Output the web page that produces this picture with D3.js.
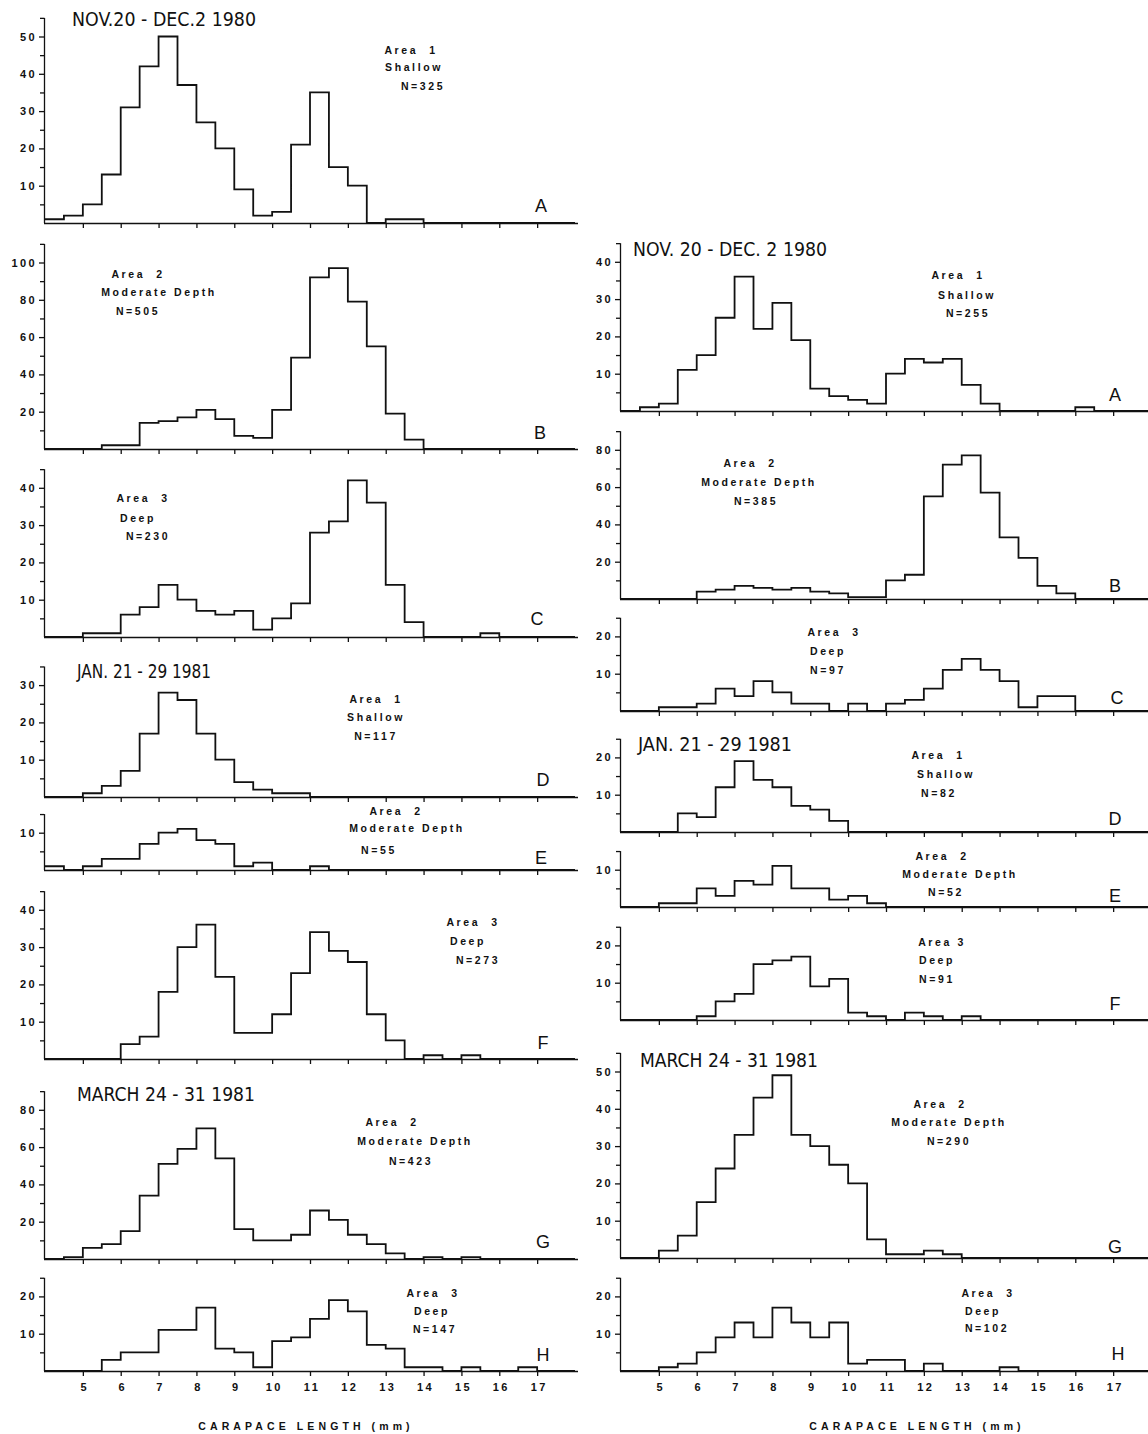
<!DOCTYPE html>
<html>
<head>
<meta charset="utf-8">
<script src="https://cdn.jsdelivr.net/npm/d3@7"></script>
<style>
  body { margin: 0; background: #fff; }
  svg text { fill: #111; }
  .num { font-family: "Liberation Sans", Arial, sans-serif; font-weight: bold; font-size: 11px; letter-spacing: 2.4px; }
  .note { font-family: "Liberation Sans", Arial, sans-serif; font-weight: bold; font-size: 10.5px; letter-spacing: 2.6px; white-space: pre; }
  .axis-title { font-family: "Liberation Sans", Arial, sans-serif; font-weight: bold; font-size: 10.5px; letter-spacing: 4.1px; }
  .title { font-family: "Liberation Sans Narrow", "DejaVu Sans Condensed", "Liberation Sans", sans-serif; font-size: 19.5px; }
  .letter { font-family: "Liberation Sans", Arial, sans-serif; font-size: 18px; }
</style>
</head>
<body>
<div id="chart"></div>
<script>
// lower edge of each 0.5 mm size class (mm)
const binStarts = [4, 4.5, 5, 5.5, 6, 6.5, 7, 7.5, 8, 8.5, 9, 9.5, 10, 10.5,
  11, 11.5, 12, 12.5, 13, 13.5, 14, 14.5, 15, 15.5, 16, 16.5, 17, 17.5];
const xTicks = [5, 6, 7, 8, 9, 10, 11, 12, 13, 14, 15, 16, 17];
const axisTitle = 'CARAPACE LENGTH (mm)';

// left column, counts per size class
const leftA = [1, 2, 5, 13, 31, 42, 50, 37, 27, 20, 9, 2, 3, 21, 35, 15, 10, 0, 1, 1, 0, 0, 0, 0, 0, 0, 0, 0];
const leftB = [0, 0, 0, 2, 2, 14, 15, 17, 21, 16, 7, 6, 21, 49, 92, 97, 79, 55, 19, 5, 0, 0, 0, 0, 0, 0, 0, 0];
const leftC = [0, 0, 1, 1, 6, 8, 14, 10, 7, 6, 7, 2, 5, 9, 28, 31, 42, 36, 14, 4, 0, 0, 0, 1, 0, 0, 0, 0];
const leftD = [0, 0, 1, 3, 7, 17, 28, 26, 17, 10, 4, 2, 1, 1, 0, 0, 0, 0, 0, 0, 0, 0, 0, 0, 0, 0, 0, 0];
const leftE = [1, 0, 1, 3, 3, 7, 10, 11, 8, 7, 1, 2, 0, 0, 1, 0, 0, 0, 0, 0, 0, 0, 0, 0, 0, 0, 0, 0];
const leftF = [0, 0, 0, 0, 4, 6, 18, 30, 36, 22, 7, 7, 12, 23, 34, 29, 26, 12, 5, 0, 1, 0, 1, 0, 0, 0, 0, 0];
const leftG = [0, 1, 6, 8, 15, 34, 51, 59, 70, 54, 16, 10, 10, 13, 26, 21, 13, 8, 3, 0, 1, 0, 1, 0, 0, 0, 0, 0];
const leftH = [0, 0, 0, 3, 5, 5, 11, 11, 17, 6, 5, 1, 8, 9, 14, 19, 16, 7, 6, 1, 1, 0, 1, 0, 0, 1, 0, 0];

// right column, counts per size class
const rightA = [0, 1, 2, 11, 15, 25, 36, 22, 29, 19, 6, 4, 3, 2, 10, 14, 13, 14, 7, 2, 0, 0, 0, 0, 1, 0, 0, 0];
const rightB = [0, 0, 0, 0, 4, 5, 7, 6, 5, 6, 4, 3, 1, 1, 10, 13, 55, 72, 77, 57, 33, 22, 7, 3, 0, 0, 0, 0];
const rightC = [0, 0, 1, 1, 2, 6, 4, 8, 5, 2, 2, 0, 2, 0, 2, 3, 6, 11, 14, 11, 8, 1, 4, 4, 0, 0, 0, 0];
const rightD = [0, 0, 0, 5, 4, 12, 19, 14, 12, 7, 6, 3, 0, 0, 0, 0, 0, 0, 0, 0, 0, 0, 0, 0, 0, 0, 0, 0];
const rightE = [0, 0, 1, 1, 5, 3, 7, 6, 11, 5, 5, 2, 3, 1, 0, 0, 0, 0, 0, 0, 0, 0, 0, 0, 0, 0, 0, 0];
const rightF = [0, 0, 0, 0, 1, 5, 7, 15, 16, 17, 9, 11, 2, 1, 0, 2, 1, 0, 1, 0, 0, 0, 0, 0, 0, 0, 0, 0];
const rightG = [0, 0, 2, 6, 15, 24, 33, 43, 49, 33, 30, 25, 20, 5, 1, 1, 2, 1, 0, 0, 0, 0, 0, 0, 0, 0, 0, 0];
const rightH = [0, 0, 1, 2, 5, 9, 13, 9, 17, 13, 9, 13, 2, 3, 3, 0, 2, 0, 0, 0, 1, 0, 0, 0, 0, 0, 0, 0];

const width = 1148, height = 1434;

// each column shares one x range
const columns = {
  left: { range: [45, 575], lineEnd: 578, titleX: 306 },
  right: { range: [621, 1151], lineEnd: 1151, titleX: 917 }
};

// panel layout: baseline pixel, top of y scale, labelled tick step
const panels = [
  { col: 'left', counts: leftA, base: 223, yMax: 55, step: 10, letter: 'A', lx: 541, ly: 212,
    title: { text: 'NOV.20 - DEC.2 1980', x: 72, y: 26, w: 184 },
    notes: [['Area  1', 411, 54], ['Shallow', 414, 71], ['N=325', 423, 90]] },
  { col: 'left', counts: leftB, base: 449, yMax: 110, step: 20, letter: 'B', lx: 540, ly: 439,
    notes: [['Area  2', 138, 278], ['Moderate Depth', 159, 296], ['N=505', 138, 315]] },
  { col: 'left', counts: leftC, base: 637, yMax: 45, step: 10, letter: 'C', lx: 537, ly: 625,
    notes: [['Area  3', 143, 502], ['Deep', 138, 522], ['N=230', 148, 540]] },
  { col: 'left', counts: leftD, base: 797, yMax: 35, step: 10, letter: 'D', lx: 543, ly: 786,
    title: { text: 'JAN. 21 - 29  1981', x: 77, y: 678, w: 134 },
    notes: [['Area  1', 376, 703], ['Shallow', 376, 721], ['N=117', 376, 740]] },
  { col: 'left', counts: leftE, base: 870, yMax: 15, step: 10, letter: 'E', lx: 541, ly: 864,
    notes: [['Area  2', 396, 815], ['Moderate Depth', 407, 832], ['N=55', 379, 854]] },
  { col: 'left', counts: leftF, base: 1059, yMax: 45, step: 10, letter: 'F', lx: 543, ly: 1049,
    notes: [['Area  3', 473, 926], ['Deep', 468, 945], ['N=273', 478, 964]] },
  { col: 'left', counts: leftG, base: 1259, yMax: 90, step: 20, letter: 'G', lx: 543, ly: 1248,
    title: { text: 'MARCH 24 - 31  1981', x: 77, y: 1101, w: 178 },
    notes: [['Area  2', 392, 1126], ['Moderate Depth', 415, 1145], ['N=423', 411, 1165]] },
  { col: 'left', counts: leftH, base: 1371, yMax: 25, step: 10, letter: 'H', lx: 543, ly: 1361, bottom: true,
    notes: [['Area  3', 433, 1297], ['Deep', 432, 1315], ['N=147', 435, 1333]] },

  { col: 'right', counts: rightA, base: 411, yMax: 45, step: 10, letter: 'A', lx: 1115, ly: 401,
    title: { text: 'NOV. 20 - DEC. 2 1980', x: 633, y: 256, w: 194 },
    notes: [['Area  1', 958, 279], ['Shallow', 967, 299], ['N=255', 968, 317]] },
  { col: 'right', counts: rightB, base: 599, yMax: 90, step: 20, letter: 'B', lx: 1115, ly: 592,
    notes: [['Area  2', 750, 467], ['Moderate Depth', 759, 486], ['N=385', 756, 505]] },
  { col: 'right', counts: rightC, base: 711, yMax: 25, step: 10, letter: 'C', lx: 1117, ly: 704,
    notes: [['Area  3', 834, 636], ['Deep', 828, 655], ['N=97', 828, 674]] },
  { col: 'right', counts: rightD, base: 832, yMax: 25, step: 10, letter: 'D', lx: 1115, ly: 825,
    title: { text: 'JAN. 21 - 29  1981', x: 638, y: 751, w: 154 },
    notes: [['Area  1', 938, 759], ['Shallow', 946, 778], ['N=82', 939, 797]] },
  { col: 'right', counts: rightE, base: 907, yMax: 15, step: 10, letter: 'E', lx: 1115, ly: 902,
    notes: [['Area  2', 942, 860], ['Moderate Depth', 960, 878], ['N=52', 946, 896]] },
  { col: 'right', counts: rightF, base: 1020, yMax: 25, step: 10, letter: 'F', lx: 1115, ly: 1010,
    notes: [['Area 3', 942, 946], ['Deep', 937, 964], ['N=91', 937, 983]] },
  { col: 'right', counts: rightG, base: 1258, yMax: 55, step: 10, letter: 'G', lx: 1115, ly: 1253,
    title: { text: 'MARCH 24 - 31  1981', x: 640, y: 1067, w: 178 },
    notes: [['Area  2', 940, 1108], ['Moderate Depth', 949, 1126], ['N=290', 949, 1145]] },
  { col: 'right', counts: rightH, base: 1371, yMax: 25, step: 10, letter: 'H', lx: 1118, ly: 1360, bottom: true,
    notes: [['Area  3', 988, 1297], ['Deep', 983, 1315], ['N=102', 987, 1332]] }
];

const svg = d3.select('#chart')
  .append('svg')
  .attr('width', width)
  .attr('height', height)
  .style('display', 'block');

svg.append('rect').attr('width', width).attr('height', height).attr('fill', '#fff');

// one labelled step (10 or 20 counts) is about 37 px tall in every panel
const stepPx = 37.3;

panels.forEach((p) => {
  const col = columns[p.col];
  const x = d3.scaleLinear().domain([4, 18]).range(col.range);
  const y = d3.scaleLinear().domain([0, p.yMax]).range([p.base, p.base - p.yMax * stepPx / p.step]);
  const g = svg.append('g');

  // x axis with downward ticks, numbers only under the bottom panels
  const xAxis = d3.axisBottom(x)
    .tickValues(xTicks)
    .tickSize(5)
    .tickSizeOuter(0)
    .tickPadding(7)
    .tickFormat((d) => (p.bottom ? d : ''));
  const xg = g.append('g').attr('transform', `translate(0,${p.base})`).call(xAxis);
  xg.select('.domain').attr('d', `M${x(4) - 1},0.5H${col.lineEnd}`);
  xg.selectAll('line').attr('stroke', '#111').attr('stroke-width', 1.3);
  xg.select('.domain').attr('stroke', '#111').attr('stroke-width', 1.5);
  xg.selectAll('text').attr('class', 'num').attr('dx', 1.5);

  // y axis: minor ticks at half steps, labels on whole steps
  const minor = d3.range(p.step / 2, p.yMax + 0.01, p.step / 2).filter((v) => v % p.step !== 0);
  const major = d3.range(p.step, p.yMax + 0.01, p.step);
  const yx = x(4) - 1;

  const ygMinor = g.append('g').attr('transform', `translate(${yx},0)`)
    .call(d3.axisLeft(y).tickValues(minor).tickSize(4).tickSizeOuter(0).tickFormat(''));
  ygMinor.select('.domain').remove();

  const yg = g.append('g').attr('transform', `translate(${yx},0)`)
    .call(d3.axisLeft(y).tickValues(major).tickSize(5).tickSizeOuter(0).tickPadding(2));
  yg.select('.domain').attr('d', `M0.5,${y(0)}V${y(p.yMax)}`);
  g.selectAll('.tick line, .domain').attr('stroke', '#111').attr('stroke-width', 1.3);
  yg.selectAll('text').attr('class', 'num');

  // stepped outline of the size-frequency histogram
  const pts = binStarts.map((b, i) => [b, p.counts[i]]);
  pts.push([18, 0]);
  const line = d3.line()
    .x((d) => x(d[0]))
    .y((d) => y(d[1]))
    .curve(d3.curveStepAfter);

  g.append('path')
    .datum(pts)
    .attr('d', line)
    .attr('fill', 'none')
    .attr('stroke', '#111')
    .attr('stroke-width', 1.8)
    .attr('stroke-linejoin', 'miter');

  // panel letter
  g.append('text')
    .attr('class', 'letter')
    .attr('x', p.lx)
    .attr('y', p.ly)
    .attr('text-anchor', 'middle')
    .text(p.letter);

  // area / depth / sample size note
  p.notes.forEach(([t, nx, ny]) => {
    g.append('text')
      .attr('class', 'note')
      .attr('x', nx)
      .attr('y', ny)
      .attr('text-anchor', 'middle')
      .text(t);
  });

  // sampling date heading
  if (p.title) {
    g.append('text')
      .attr('class', 'title')
      .attr('x', p.title.x)
      .attr('y', p.title.y)
      .attr('textLength', p.title.w)
      .attr('lengthAdjust', 'spacingAndGlyphs')
      .text(p.title.text);
  }
});

// axis titles under each column
Object.values(columns).forEach((c) => {
  svg.append('text')
    .attr('class', 'axis-title')
    .attr('x', c.titleX)
    .attr('y', 1430)
    .attr('text-anchor', 'middle')
    .text(axisTitle);
});
</script>
</body>
</html>
